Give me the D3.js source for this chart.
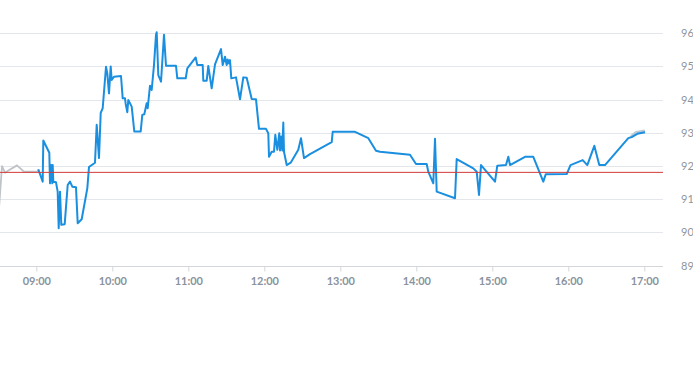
<!DOCTYPE html>
<html><head><meta charset="utf-8">
<script src="https://cdn.jsdelivr.net/npm/d3@7/dist/d3.min.js"></script>
<style>body{margin:0;background:#fff;font-family:"Liberation Sans",Arial,sans-serif;}</style>
</head><body><svg id="c" width="693" height="365"></svg>
<script>
const yTicks = [89, 90, 91, 92, 93, 94, 95, 96];
const xTickLabels = ["09:00","10:00","11:00","12:00","13:00","14:00","15:00","16:00","17:00"];
const refValue = 91.81;

const preTimes = ["08:30:30","08:32:55","08:35:17","08:37:40","08:44:45","08:50:17","09:01:20","09:01:35"];
const preValues = [90.70, 92.00, 91.80, 91.86, 92.02, 91.83, 91.83, 91.90];

const tailTimes = ["16:49:00","16:50:18","16:53:27","17:00:33"];
const tailValues = [92.86, 92.92, 93.02, 93.06];

const times = ["09:01:35","09:05:03","09:05:32","09:10:16","09:10:49","09:11:36","09:12:38","09:12:57","09:13:25","09:15:33",
"09:16:53","09:17:41","09:18:43","09:19:44","09:22:25","09:24:47","09:26:36","09:28:25","09:31:20","09:32:41",
"09:35:50","09:40:16","09:41:36","09:46:20","09:47:41","09:49:30","09:50:51","09:52:25","09:55:02","09:56:03",
"09:57:24","09:58:44","09:59:32","10:01:20","10:06:52","10:08:13","10:10:02","10:10:35","10:11:51","10:12:38",
"10:15:19","10:17:22","10:22:25","10:23:41","10:25:16","10:27:09","10:27:57","10:29:46","10:31:06","10:32:55",
"10:34:30","10:35:03","10:36:19","10:38:27","10:40:49","10:42:24","10:50:17","10:51:19","10:57:57","10:59:13",
"11:05:50","11:07:06","11:11:22","11:11:50","11:14:31","11:15:47","11:18:28","11:21:05","11:25:49","11:27:10",
"11:28:58","11:30:19","11:31:06","11:32:08","11:32:55","11:33:57","11:37:40","11:40:49","11:43:25","11:46:06",
"11:50:03","11:53:27","11:55:49","12:01:20","12:03:09","12:03:43","12:05:50","12:07:39","12:08:41","12:10:16",
"12:11:51","12:12:24","12:13:25","12:14:13","12:15:00","12:15:33","12:17:41","12:20:50","12:26:50","12:28:58",
"12:31:20","12:36:05","12:53:13","12:54:00","13:11:37","13:22:07","13:28:11","13:31:20","13:55:02","13:59:46",
"14:08:13","14:09:28","14:13:25","14:14:46","14:16:06","14:30:33","14:31:53","14:45:00","14:47:41","14:49:30",
"14:51:05","15:02:08","15:03:57","15:10:49","15:12:38","15:13:58","15:25:49","15:32:22","15:40:16","15:42:10",
"15:58:44","16:01:44","16:11:22","16:15:00","16:20:32","16:24:28","16:28:58","16:47:22","16:50:03","16:54:28",
"17:00:33"];
const values = [91.90,91.53,92.77,92.40,91.48,92.03,91.48,92.03,91.53,91.51,
91.23,90.13,91.23,90.23,90.25,91.43,91.53,91.38,91.36,90.28,
90.40,91.33,91.97,92.10,93.24,92.24,93.60,93.74,94.99,94.79,
94.19,95.00,94.59,94.69,94.71,94.04,94.04,93.87,93.62,93.99,
93.79,93.04,93.04,93.54,93.56,93.89,93.74,94.42,94.29,95.04,
95.95,96.03,94.74,94.54,95.95,95.02,95.02,94.64,94.64,94.94,
95.27,95.04,95.04,94.57,94.57,95.01,94.34,95.06,95.52,95.04,
95.29,95.04,95.21,95.09,95.19,94.64,94.67,94.01,94.67,94.66,
94.02,94.01,93.12,93.12,92.99,92.28,92.43,92.43,92.94,92.49,
92.99,92.47,92.89,92.47,93.31,92.43,92.03,92.10,92.49,92.84,
92.24,92.36,92.72,93.03,93.03,92.84,92.46,92.43,92.34,92.06,
92.06,91.83,91.48,92.82,91.23,91.03,92.21,91.93,91.83,91.13,
92.03,91.53,92.01,92.03,92.28,92.03,92.28,92.28,91.53,91.75,
91.76,92.03,92.18,92.03,92.61,92.03,92.03,92.84,92.87,92.97,
93.02];

(function(){
const parse = d3.timeParse("%H:%M:%S");
const svg = d3.select("#c");
const W = 663, plotTop = 33.2, plotBottom = 265.7;

const x = d3.scaleTime()
  .domain([parse("08:30:00"), parse("17:15:00")])
  .range([-1.7, 663.3]);
const y = d3.scaleLinear().domain([89, 96]).range([plotBottom, plotTop]);

svg.append("defs").append("clipPath").attr("id","clip")
  .append("rect").attr("x",0).attr("y",0).attr("width",W).attr("height",plotBottom);

svg.append("g").selectAll("line").data(yTicks.filter(d => d > 89)).join("line")
  .attr("x1",0).attr("x2",W).attr("y1",d=>Math.round(y(d))+0.5).attr("y2",d=>Math.round(y(d))+0.5)
  .attr("stroke","#e3e6ea").attr("stroke-width",1);

svg.append("g").selectAll("text").data(yTicks).join("text")
  .attr("x",681).attr("y",d=>y(d)+4).text(d=>d)
  .attr("fill","#8f959c").attr("font-size",11).attr("font-family","Lato, 'Liberation Sans', sans-serif");

const xAxis = d3.axisBottom(x)
  .tickValues(xTickLabels.map(t => parse(t + ":00")))
  .tickFormat(d3.timeFormat("%H:%M"))
  .tickSize(5).tickSizeOuter(0).tickPadding(6);
const gx = svg.append("g").attr("transform",`translate(0,${Math.round(plotBottom)+0.5})`).call(xAxis);
gx.select(".domain").attr("stroke","#d3d7dc").attr("d",`M0,0H${W}`);
gx.selectAll(".tick line").attr("stroke","#d3d7dc");
gx.selectAll(".tick text").attr("fill","#8a939d").attr("font-size",11).attr("font-weight","bold")
  .attr("font-family","Lato, 'Liberation Sans', sans-serif");

const line = d3.line().x(d=>x(d[0])).y(d=>y(d[1]));
const g = svg.append("g").attr("clip-path","url(#clip)");

g.append("path").datum(preTimes.map((t,i)=>[parse(t),preValues[i]]))
  .attr("d",line).attr("fill","none").attr("stroke","#bfc3c8").attr("stroke-width",1.8).attr("stroke-linejoin","round");
g.append("path").datum(tailTimes.map((t,i)=>[parse(t),tailValues[i]]))
  .attr("d",line).attr("fill","none").attr("stroke","#bcc8d4").attr("stroke-width",2.5).attr("stroke-linejoin","round");

svg.append("line").attr("x1",0).attr("x2",W)
  .attr("y1",y(refValue)).attr("y2",y(refValue))
  .attr("stroke","#d33a3a").attr("stroke-width",1);

g.append("path").datum(times.map((t,i)=>[parse(t),values[i]]))
  .attr("d",line).attr("fill","none").attr("stroke","#1a8fe0").attr("stroke-width",2).attr("stroke-linejoin","round");
})();
</script>
</body></html>
